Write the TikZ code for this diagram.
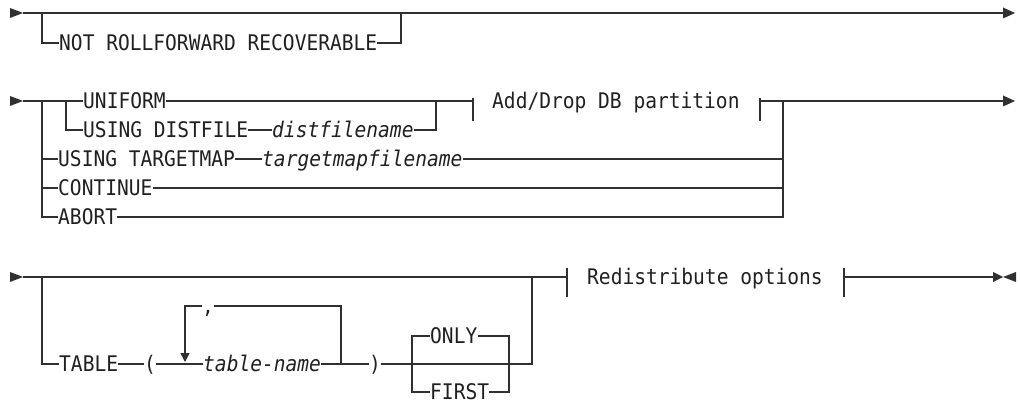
\documentclass[tikz,border=0pt]{standalone}
\usepackage{fontspec}
\setmonofont{DejaVu Sans Mono}[FakeStretch=0.91]
\usetikzlibrary{calc,arrows.meta}
\definecolor{railc}{HTML}{303030}
\definecolor{txtc}{HTML}{202020}
\begin{document}
\begin{tikzpicture}[x=1pt,y=-1pt,
  rail/.style={line width=1.3pt, draw=railc},
  txt/.style={anchor=west, inner sep=0pt, text height=15pt, text depth=0pt,
    font=\ttfamily\fontsize{21.5}{22}\selectfont, text=txtc},
  var/.style={txt, font=\ttfamily\itshape\fontsize{21.5}{22}\selectfont},
  tri/.style={fill=railc, draw=none}
]
\useasboundingbox (0,0) rectangle (1020,403);

% ---------------- Row 1 ----------------
\coordinate (r1s) at (10,13);
\coordinate (r1a) at (23,13);
\coordinate (r1b) at (42,13);
\coordinate (r1c) at (401,13);
\coordinate (r1e) at (1003,13);
\node[txt] (nrr) at (59,43) {NOT ROLLFORWARD RECOVERABLE};
\fill[tri] ($(r1s)+(0,-5)$) -- (r1a) -- ($(r1s)+(0,5)$) -- cycle;
\draw[rail] (r1a) -- (r1e);
\draw[rail] (r1b) |- (nrr.west);
\draw[rail] (nrr.east) -| (r1c);
\fill[tri] ($(r1e)+(0,-5.5)$) -- ($(r1e)+(12,0)$) -- ($(r1e)+(0,5.5)$) -- cycle;

% ---------------- Row 2 ----------------
\coordinate (r2s) at (10,101);
\coordinate (r2a) at (23,101);
\coordinate (r2b) at (42,101);
\coordinate (r2c) at (66,101);
\node[txt] (uni) at (83,101) {UNIFORM};
\node[txt] (udf) at (83,130) {USING DISTFILE};
\node[var] (dfn) at (272,130) {distfilename};
\coordinate (r2d) at (436,101);
\coordinate (b2l) at (473,101);
\node[txt] (adp) at (492,101) {Add/Drop DB partition};
\coordinate (b2r) at (760,101);
\coordinate (r2f) at (783,101);
\coordinate (r2e) at (1003,101);
\node[txt] (utm) at (58,159) {USING TARGETMAP};
\node[var] (tmf) at (262,159) {targetmapfilename};
\node[txt] (cont) at (58,188) {CONTINUE};
\node[txt] (abort) at (58,217) {ABORT};

\fill[tri] ($(r2s)+(0,-5)$) -- (r2a) -- ($(r2s)+(0,5)$) -- cycle;
\draw[rail] (r2a) -- (uni.west);
\draw[rail] (uni.east) -- (b2l);
\draw[rail] ($(b2l)+(0,-3)$) -- ($(b2l)+(0,20)$);
\draw[rail] ($(b2r)+(0,-3)$) -- ($(b2r)+(0,20)$);
\draw[rail] (b2r) -- (r2e);
\fill[tri] ($(r2e)+(0,-5.5)$) -- ($(r2e)+(12,0)$) -- ($(r2e)+(0,5.5)$) -- cycle;
\draw[rail] (r2c) |- (udf.west);
\draw[rail] (udf.east) -- (dfn.west);
\draw[rail] (dfn.east) -| (r2d);
\draw[rail] (r2b) |- (utm.west);
\draw[rail] (utm.east) -- (tmf.west);
\draw[rail] (tmf.east) -| (r2f);
\draw[rail] (r2b) |- (cont.west);
\draw[rail] (cont.east) -| (r2f);
\draw[rail] (r2b) |- (abort.west);
\draw[rail] (abort.east) -| (r2f);

% ---------------- Row 3 ----------------
\coordinate (r3s) at (10,277);
\coordinate (r3a) at (23,277);
\coordinate (r3b) at (42,277);
\node[txt] (tbl) at (59,364) {TABLE};
\node[txt] (lp) at (144,364) {(};
\coordinate (lpl) at (185,364);
\coordinate (lplt) at (185,306);
\node[var] (tn) at (203,364) {table-name};
\coordinate (lpr) at (341,364);
\coordinate (lpt) at (341,306);
\node[txt] (cm) at (202,306) {,};
\node[txt] (rp) at (369,364) {)};
\coordinate (ob) at (412,364);
\node[txt] (only) at (430,336) {ONLY};
\node[txt] (first) at (430,392) {FIRST};
\coordinate (oe) at (509,364);
\coordinate (r3c) at (532,277);
\coordinate (b3l) at (567,277);
\node[txt] (rdo) at (587,277) {Redistribute options};
\coordinate (b3r) at (844,277);
\coordinate (r3e) at (993,277);

\fill[tri] ($(r3s)+(0,-5)$) -- (r3a) -- ($(r3s)+(0,5)$) -- cycle;
\draw[rail] (r3a) -- (b3l);
\draw[rail] ($(b3l)+(0,-9)$) -- ($(b3l)+(0,20)$);
\draw[rail] ($(b3r)+(0,-9)$) -- ($(b3r)+(0,20)$);
\draw[rail] (b3r) -- (r3e);
\fill[tri] ($(r3e)+(0,-5)$) -- ($(r3e)+(10,0)$) -- ($(r3e)+(0,5)$) -- cycle;
\fill[tri] ($(r3e)+(23,-5)$) -- ($(r3e)+(10,0)$) -- ($(r3e)+(23,5)$) -- cycle;

\draw[rail] (r3b) |- (tbl.west);
\draw[rail] (tbl.east) -- (lp.west);
\draw[rail] (lp.east) -- (tn.west);
\draw[rail] (tn.east) -- (rp.west);
\draw[rail] (rp.east) -| (r3c);
\draw[rail] (lpr) -- (lpt) -- (cm.east);
\draw[rail, -{Triangle[length=9pt,width=9pt]}] (cm.west) -- (lplt) -- ($(lpl)+(0,-2)$);
\draw[rail] (ob) |- (only.west);
\draw[rail] (only.east) -| (oe);
\draw[rail] (ob) |- (first.west);
\draw[rail] (first.east) -| (oe);
\end{tikzpicture}
\end{document}
